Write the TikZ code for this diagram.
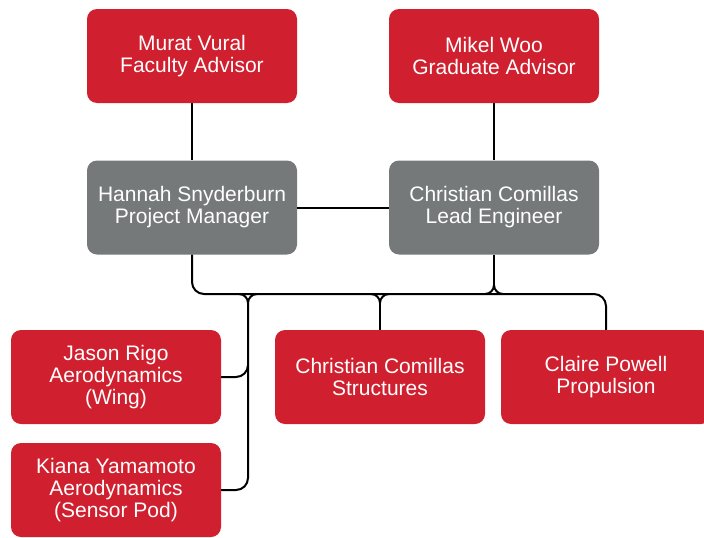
\documentclass[tikz,border=0pt]{standalone}
\usepackage{fontspec}
\setmainfont{Liberation Sans}
\usetikzlibrary{calc}
\definecolor{boxred}{HTML}{D0202F}
\definecolor{boxgrey}{HTML}{767979}
\begin{document}
\begin{tikzpicture}[x=1pt,y=-1pt,
  card/.style={rectangle, rounded corners=10pt, minimum width=210pt,
    minimum height=94pt, inner sep=0pt, align=center, text=white,
    font=\fontsize{21}{22}\selectfont},
  lead/.style={card, fill=boxgrey},
  member/.style={card, fill=boxred},
  link/.style={line width=2pt, black}]
\useasboundingbox (0,0) rectangle (704,538);

% advisors
\node[member] (murat) at (192,56) {Murat Vural\\Faculty Advisor};
\node[member] (mikel) at (494,56) {Mikel Woo\\Graduate Advisor};
% leads
\node[lead] (hannah) at (192,207.5) {Hannah Snyderburn\\Project Manager};
\node[lead] (christian) at (494,207.5) {Christian Comillas\\Lead Engineer};
% team members
\node[member] (jason) at (116,377) {Jason Rigo\\Aerodynamics\\(Wing)};
\node[member] (structures) at (380,377) {Christian Comillas\\Structures};
\node[member] (claire) at (606,377) {Claire Powell\\Propulsion};
\node[member] (kiana) at (116,490) {Kiana Yamamoto\\Aerodynamics\\(Sensor Pod)};

% bus height and junctions
\coordinate (busy) at (0,294);
\coordinate (cj) at (christian.south |- busy);
\coordinate (sj) at (structures.north |- busy);
\coordinate (aj) at (248,294);

% upper links
\draw[link] (murat) -- (hannah);
\draw[link] (mikel) -- (christian);
\draw[link] (hannah) -- (christian);

% main bus
\draw[link, rounded corners=12pt] (hannah.south) |- (claire.north |- busy) -- (claire.north);

% lead engineer joins the bus
\draw[link] (christian.south) -- ($(cj)+(0,-9)$);
\draw[link] ($(cj)+(0,-9)$) to[out=-90,in=180] ($(cj)+(9,0)$);
\draw[link] ($(cj)+(0,-9)$) to[out=-90,in=0] ($(cj)+(-9,0)$);

% structures branch
\draw[link] ($(sj)+(-9,0)$) to[out=0,in=90] ($(sj)+(0,9)$) to[out=90,in=180] ($(sj)+(9,0)$);
\draw[link] ($(sj)+(0,9)$) -- (structures.north);

% aerodynamics branch
\draw[link] ($(aj)+(-9,0)$) to[out=0,in=90] ($(aj)+(0,9)$) to[out=90,in=180] ($(aj)+(9,0)$);
\draw[link, rounded corners=12pt] ($(aj)+(0,9)$) |- (kiana.east);
\draw[link] (jason.east) -- ($(jason.east -| aj)+(-12,0)$)
  to[out=0,in=-90] ($(jason.east -| aj)+(0,-12)$);
\end{tikzpicture}
\end{document}
